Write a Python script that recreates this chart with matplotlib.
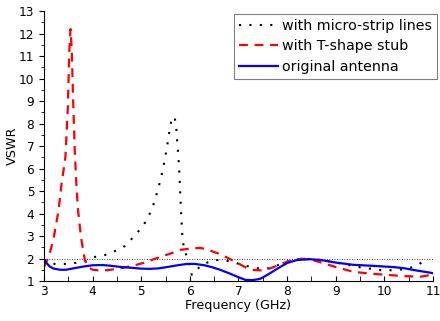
import matplotlib
matplotlib.use("Agg")
import matplotlib.pyplot as plt
from matplotlib.ticker import MultipleLocator

# with micro-strip lines (black dotted)
freq_m = [3.0, 3.1, 3.19, 3.43, 3.64, 3.84, 4.05, 4.26, 4.46, 4.67, 4.84, 5.0, 5.11,
          5.23, 5.35, 5.45, 5.53, 5.59, 5.63, 5.66, 5.69, 5.72, 5.75, 5.78, 5.8,
          5.82, 5.85, 5.9, 5.97, 6.04, 6.12, 6.24, 6.48, 6.68, 6.89, 7.07, 7.28,
          7.48, 7.69, 7.9, 8.1, 8.3, 8.5, 8.72, 9.0, 9.36, 9.57, 9.78, 9.99,
          10.22, 10.43, 10.67, 10.84]
vswr_m = [1.95, 1.82, 1.76, 1.76, 1.8, 1.89, 2.07, 2.16, 2.33, 2.56, 2.96, 3.35, 3.7,
          4.24, 5.1, 6.0, 6.96, 7.8, 8.25, 8.3, 8.25, 7.8, 6.9, 6.0, 5.0,
          4.0, 2.8, 2.3, 1.93, 1.27, 1.45, 1.71, 1.93, 1.93, 1.85, 1.71, 1.62,
          1.53, 1.58, 1.8, 1.93, 1.98, 1.97, 1.93, 1.82, 1.67, 1.58, 1.53, 1.46,
          1.49, 1.53, 1.67, 1.95]

# with T-shape stub (red dashed)
freq_t = [3.0, 3.1, 3.19, 3.3, 3.36, 3.44, 3.49, 3.52, 3.545, 3.57, 3.6, 3.63,
          3.66, 3.7, 3.76, 3.84, 3.91, 4.0, 4.15, 4.3, 4.5, 4.7, 4.9, 5.04, 5.2,
          5.39, 5.6, 5.8, 6.0, 6.2, 6.35, 6.48, 6.62, 6.8, 7.0, 7.15, 7.3, 7.5,
          7.7, 7.9, 8.1, 8.3, 8.5, 8.7, 9.0, 9.36, 9.7, 10.06, 10.4, 10.74,
          10.9, 11.0]
vswr_t = [1.62, 2.1, 2.8, 4.15, 5.3, 6.5, 8.7, 11.2, 12.2, 11.3, 9.0, 6.96,
          5.5, 4.15, 2.96, 1.93, 1.62, 1.5, 1.47, 1.48, 1.54, 1.62, 1.72, 1.8, 1.92,
          2.07, 2.22, 2.38, 2.44, 2.47, 2.42, 2.3, 2.2, 2.0, 1.78, 1.6, 1.49, 1.47,
          1.6, 1.78, 1.92, 1.99, 1.95, 1.82, 1.62, 1.41, 1.33, 1.27, 1.22, 1.19,
          1.25, 1.35]

# original antenna (blue solid)
freq_o = [3.0, 3.06, 3.12, 3.2, 3.33, 3.45, 3.6, 3.8, 4.0, 4.2, 4.36, 4.6, 4.84,
          5.0, 5.18, 5.35, 5.53, 5.75, 5.94, 6.1, 6.3, 6.48, 6.62, 6.8, 7.0,
          7.14, 7.3, 7.45, 7.6, 7.8, 8.0, 8.2, 8.47, 8.7, 9.0, 9.36, 9.8, 10.18,
          10.4, 10.6, 10.8, 11.0]
vswr_o = [1.95, 1.78, 1.64, 1.55, 1.5, 1.5, 1.56, 1.64, 1.7, 1.71, 1.68, 1.62, 1.58,
          1.55, 1.54, 1.56, 1.62, 1.7, 1.76, 1.76, 1.7, 1.6, 1.5, 1.35, 1.17,
          1.05, 1.04, 1.1, 1.28, 1.55, 1.8, 1.93, 1.97, 1.93, 1.82, 1.72, 1.67,
          1.62, 1.57, 1.49, 1.42, 1.35]

ref_freq = [3, 11]
ref_vswr = [2, 2]

fig = plt.figure(figsize=(4.4, 3.21), dpi=100)
ax = fig.add_axes([0.1, 0.1246, 0.884, 0.8411])

ax.plot(ref_freq, ref_vswr, color="black", lw=0.6, linestyle=(0, (1, 2)))
ax.plot(freq_m, vswr_m, color="black", lw=1.5, linestyle=(0, (1, 4)),
        label="with micro-strip lines")
ax.plot(freq_t, vswr_t, color="red", lw=1.6, linestyle=(0, (4, 3)),
        label="with T-shape stub")
ax.plot(freq_o, vswr_o, color="blue", lw=1.6, label="original antenna")

ax.set_xlim(3, 11)
ax.set_ylim(1, 13)
ax.xaxis.set_major_locator(MultipleLocator(1))
ax.xaxis.set_minor_locator(MultipleLocator(0.5))
ax.yaxis.set_major_locator(MultipleLocator(1))
ax.yaxis.set_minor_locator(MultipleLocator(0.5))
ax.tick_params(axis="x", which="both", direction="in", length=3.5, labelsize=8.7, pad=3)
ax.tick_params(axis="y", which="major", direction="out", length=3.5, labelsize=8.7)
ax.tick_params(axis="y", which="minor", direction="out", length=2)
for s in ["top", "right"]:
    ax.spines[s].set_visible(False)
ax.set_xlabel("Frequency (GHz)", fontsize=9.2, labelpad=0.5)
ax.set_ylabel("VSWR", fontsize=9.2, labelpad=0)

leg = ax.legend(loc="upper right", bbox_to_anchor=(437 / 440, 1 - 14 / 321),
                bbox_transform=fig.transFigure, borderaxespad=0, fontsize=10.3,
                fancybox=False, framealpha=1, edgecolor="gray",
                handlelength=2.7, handletextpad=0.3, labelspacing=0.45,
                borderpad=0.35)
leg.get_frame().set_linewidth(0.8)

fig.savefig("out.png", dpi=100)
